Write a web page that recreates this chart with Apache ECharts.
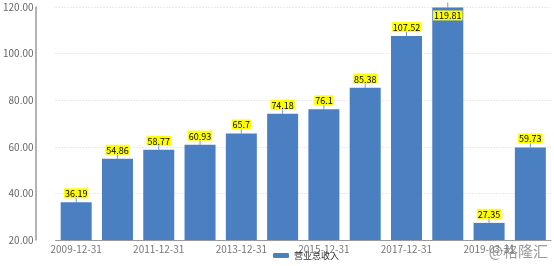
<!DOCTYPE html>
<html><head><meta charset="utf-8">
<script src="https://cdn.jsdelivr.net/npm/echarts@6/dist/echarts.min.js"></script>
<style>html,body{margin:0;padding:0;background:#fff}#c{width:554px;height:266px}</style>
</head><body><div id="c"></div>
<script>
const categories = ['2009-12-31','2010-12-31','2011-12-31','2012-12-31','2013-12-31','2014-12-31','2015-12-31','2016-12-31','2017-12-31','2018-12-31','2019-03-31','2019-06-30'];
const revenue = [36.19,54.86,58.77,60.93,65.7,74.18,76.1,85.38,107.52,119.81,27.35,59.73];
const yTicks = [20,40,60,80,100,120];
const seriesName = '营业总收入';

const chart = echarts.init(document.getElementById('c'));
const font = 'Microsoft YaHei, "Noto Sans CJK SC", sans-serif';
chart.setOption({
  animation:false,
  textStyle:{fontFamily:font},
  grid:{left:53,right:3,top:7,bottom:26},
  legend:{data:[seriesName],left:268,bottom:1,itemWidth:16,itemHeight:5,itemGap:4,
    textStyle:{fontSize:9,color:'#333',fontFamily:font}},
  graphic:[{type:'text',right:6,bottom:7,z:100,style:{text:'@格隆汇',fontSize:15,fill:'rgba(120,120,120,0.75)',fontFamily:font}}],
  xAxis:{type:'category',data:categories,
    axisLine:{lineStyle:{color:'#999',width:1}},axisTick:{show:false},
    axisLabel:{interval:1,fontSize:10,color:'#777',margin:4}},
  yAxis:{type:'value',min:yTicks[0],max:yTicks[yTicks.length-1],interval:20,offset:20,
    axisLine:{show:true,lineStyle:{color:'#999',width:1.5}},axisTick:{show:false},
    axisLabel:{fontSize:10,color:'#666',margin:2,formatter:v=>v.toFixed(2)},
    splitLine:{lineStyle:{color:'#d6d6d6',type:[1,2]}}},
  series:[{name:seriesName,type:'bar',barWidth:31,
    itemStyle:{color:'#4a7fc1'},
    data:revenue.map((v,i)=>({value:v,label: v>115?{position:'insideTop',distance:3}:{}})),
    label:{show:true,position:'top',distance:4,fontSize:9,color:'#000',
      backgroundColor:'#ffff00',padding:[1,1,0,1]}
  },{
    name:'tick',type:'scatter',data:revenue,symbol:'rect',symbolSize:[1,5],symbolOffset:[0,-2.5],
    itemStyle:{color:'#4a7fc1'},z:1,silent:true
  }]
});
</script></body></html>
